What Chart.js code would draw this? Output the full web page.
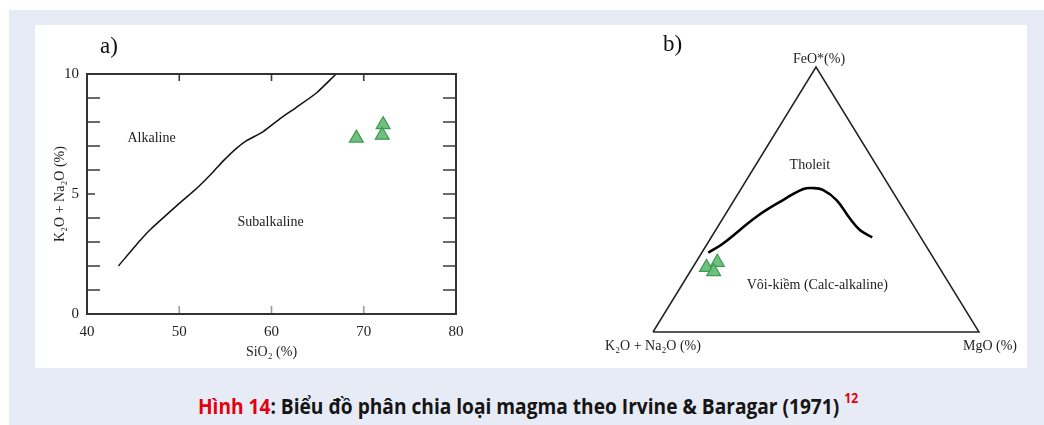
<!DOCTYPE html>
<html lang="vi">
<head>
<meta charset="utf-8">
<script src="https://cdn.jsdelivr.net/npm/chart.js@4.4.1/dist/chart.umd.min.js"></script>
<style>
  body { margin: 0; width: 1044px; height: 425px; background: #fff; position: relative; overflow: hidden; }
  #khung { position: absolute; left: 9px; top: 10px; width: 1035px; height: 415px; background: #e7ebf6; }
  #bang { position: absolute; left: 35px; top: 25px; width: 992px; height: 343px; background: #fff; }
  #divA { position: absolute; left: 35px; top: 25px; width: 470px; height: 343px; }
  #divB { position: absolute; left: 600px; top: 25px; width: 427px; height: 343px; }
  .chuCai { position: absolute; font-family: 'Liberation Serif', serif; font-size: 23px; color: #111; line-height: 1; }
  #chuThich { position: absolute; left: 5px; top: 390px; width: 1044px; text-align: center;
              font-family: 'Open Sans', sans-serif; font-weight: 700; font-size: 22px; color: #151515;
              transform: scaleX(0.87); transform-origin: 530px 0; white-space: nowrap; }
  #chuThich .do { color: #e3000f; }
  #chuThich sup { font-size: 14px; position: relative; top: -3px; }
</style>
</head>
<body>
<div id="khung"></div>
<div id="bang"></div>
<div id="divA"><canvas id="grafA" width="470" height="343"></canvas></div>
<div id="divB"><canvas id="grafB" width="427" height="343"></canvas></div>
<div class="chuCai" style="left:100px; top:34px;">a)</div>
<div class="chuCai" style="left:663px; top:32px;">b)</div>
<div id="chuThich"><span class="do">Hình 14</span>: Biểu đồ phân chia loại magma theo Irvine &amp; Baragar (1971) <sup class="do">12</sup></div>

<script>
// --- bieu do a): SiO2 - tong kiem ---
const duongSiO2 = [43.4, 45.8, 46.9, 50.1, 51.9, 53.7, 54.8, 56.2, 57.3, 59.1, 60.9, 62.7, 64.9, 67.0];
const duongKiem = [2.0, 3.08, 3.53, 4.64, 5.24, 5.93, 6.39, 6.9, 7.22, 7.6, 8.13, 8.61, 9.22, 10.0];
const mauSiO2 = [69.2, 72.1, 72.0];
const mauKiem = [7.33, 7.89, 7.45];
const vachTrai = [1, 2, 3, 4, 6, 7, 8, 9];
const vachTraiNgan = [5];
const vachPhai = [1, 2, 3, 4, 5, 6, 7, 8, 9];
const vachNgang = [50, 60, 70];
const vungA = [
  { ten: 'Alkaline', x: 47.0, y: 7.32 },
  { ten: 'Subalkaline', x: 59.9, y: 3.82 }
];

// --- bieu do b): AFM (kiem, FeO*, MgO) ---
const afmKiem = [68.1, 61.8, 46.5, 35.2, 27.1, 23.6, 21.1, 18.8, 18.2, 17.3, 14.9];
const afmFeO  = [29.9, 33.4, 43.5, 49.8, 53.9, 54.3, 53.6, 49.8, 42.9, 38.5, 35.7];
const afmMgO  = [2.0, 4.8, 10.0, 15.0, 19.0, 22.1, 25.3, 31.4, 38.9, 44.2, 49.4];
const mauAfmKiem = [71.4, 67.1, 70.0];
const mauAfmFeO  = [24.4, 26.3, 22.8];
const mauAfmMgO  = [4.2, 6.6, 7.2];
const dinhKiem = [100, 0, 0, 100];
const dinhFeO  = [0, 100, 0, 0];
const dinhMgO  = [0, 0, 100, 0];

const fontSerif = 'Liberation Serif, Times New Roman, serif';
const mauXanh = 'rgba(104, 190, 120, 0.95)';
const vienXanh = '#3c9a52';

// doi thanh phan ba dinh sang toa do phang
function sangPhang(a, f, m) {
  const tong = a + f + m;
  const ff = f / tong * 100, mm = m / tong * 100;
  return { x: mm + ff / 2, y: ff };
}

const vienVaVach = {
  id: 'vienVaVach',
  afterDatasetsDraw(chart) {
    const ctx = chart.ctx, ca = chart.chartArea;
    const sx = chart.scales.x, sy = chart.scales.y;
    ctx.save();
    ctx.strokeStyle = '#3a3a3a';
    ctx.lineWidth = 1.6;
    ctx.beginPath();
    vachTrai.forEach(v => { const p = sy.getPixelForValue(v); ctx.moveTo(ca.left, p); ctx.lineTo(ca.left + 13, p); });
    vachTraiNgan.forEach(v => { const p = sy.getPixelForValue(v); ctx.moveTo(ca.left, p); ctx.lineTo(ca.left + 8, p); });
    vachPhai.forEach(v => { const p = sy.getPixelForValue(v); ctx.moveTo(ca.right, p); ctx.lineTo(ca.right - 13, p); });
    vachNgang.forEach(v => { const p = sx.getPixelForValue(v); ctx.moveTo(p, ca.top); ctx.lineTo(p, ca.top + 7); });
    ctx.stroke();
    ctx.strokeStyle = '#9a9a9a';
    ctx.beginPath();
    vachNgang.forEach(v => { const p = sx.getPixelForValue(v); ctx.moveTo(p, ca.bottom); ctx.lineTo(p, ca.bottom - 8); });
    ctx.stroke();
    ctx.strokeStyle = '#333';
    ctx.lineWidth = 2;
    ctx.strokeRect(ca.left, ca.top, ca.right - ca.left, ca.bottom - ca.top);
    ctx.fillStyle = '#222';
    ctx.font = '14px ' + fontSerif;
    ctx.textAlign = 'center';
    ctx.textBaseline = 'middle';
    vungA.forEach(n => ctx.fillText(n.ten, sx.getPixelForValue(n.x), sy.getPixelForValue(n.y)));
    ctx.restore();
  }
};

new Chart(document.getElementById('grafA').getContext('2d'), {
  type: 'scatter',
  data: {
    datasets: [{
      type: 'line',
      data: duongSiO2.map((x, i) => ({ x: x, y: duongKiem[i] })),
      borderColor: '#111',
      borderWidth: 1.5,
      pointRadius: 0,
      tension: 0.2,
      fill: false
    }, {
      data: mauSiO2.map((x, i) => ({ x: x, y: mauKiem[i] })),
      pointStyle: 'triangle',
      pointRadius: 8,
      backgroundColor: mauXanh,
      borderColor: vienXanh,
      borderWidth: 1.2
    }]
  },
  options: {
    responsive: false,
    animation: false,
    layout: { padding: { top: 49, right: 49, left: 0, bottom: 0 } },
    plugins: { legend: { display: false }, tooltip: { enabled: false } },
    scales: {
      x: {
        type: 'linear', min: 40, max: 80,
        grid: { display: false, drawTicks: false },
        border: { display: false },
        ticks: { stepSize: 10, padding: 9, color: '#222', font: { family: fontSerif, size: 15 } },
        title: { display: true, text: 'SiO₂ (%)', color: '#222', font: { family: fontSerif, size: 14 }, padding: { top: 0, bottom: 7 } },
        afterFit(s) { s.height = 54; }
      },
      y: {
        min: 0, max: 10,
        grid: { display: false, drawTicks: false },
        border: { display: false },
        ticks: { stepSize: 5, padding: 8, color: '#222', font: { family: fontSerif, size: 15 } },
        title: { display: true, text: 'K₂O + Na₂O (%)', color: '#222', font: { family: fontSerif, size: 14 }, padding: { top: 17, bottom: 0 } },
        afterFit(s) { s.width = 52; }
      }
    }
  },
  plugins: [vienVaVach]
});

const nhanTamGiac = {
  id: 'nhanTamGiac',
  afterDatasetsDraw(chart) {
    const ctx = chart.ctx;
    const sx = chart.scales.x, sy = chart.scales.y;
    const px = v => sx.getPixelForValue(v), py = v => sy.getPixelForValue(v);
    ctx.save();
    ctx.fillStyle = '#222';
    ctx.font = '14px ' + fontSerif;
    ctx.textAlign = 'center';
    ctx.textBaseline = 'middle';
    ctx.fillText('FeO*(%)', px(50) + 3, py(100) - 8);
    ctx.fillText('K₂O + Na₂O (%)', px(0), py(0) + 14);
    ctx.fillText('MgO (%)', px(100) + 11, py(0) + 14);
    ctx.fillText('Tholeit', px(48.1), py(63.0));
    ctx.fillText('Vôi-kiềm (Calc-alkaline)', px(50.4), py(17.7));
    ctx.restore();
  }
};

new Chart(document.getElementById('grafB').getContext('2d'), {
  type: 'scatter',
  data: {
    datasets: [{
      type: 'line',
      data: dinhKiem.map((a, i) => sangPhang(a, dinhFeO[i], dinhMgO[i])),
      borderColor: '#222',
      borderWidth: 1.5,
      pointRadius: 0,
      tension: 0,
      fill: false,
      clip: 4
    }, {
      type: 'line',
      data: afmKiem.map((a, i) => sangPhang(a, afmFeO[i], afmMgO[i])),
      borderColor: '#000',
      borderWidth: 2.6,
      pointRadius: 0,
      tension: 0.4,
      fill: false
    }, {
      data: mauAfmKiem.map((a, i) => sangPhang(a, mauAfmFeO[i], mauAfmMgO[i])),
      pointStyle: 'triangle',
      pointRadius: 8,
      backgroundColor: mauXanh,
      borderColor: vienXanh,
      borderWidth: 1.2
    }]
  },
  options: {
    responsive: false,
    animation: false,
    layout: { padding: { top: 42, right: 48, left: 53, bottom: 36 } },
    plugins: { legend: { display: false }, tooltip: { enabled: false } },
    scales: {
      x: { type: 'linear', min: 0, max: 100, display: false },
      y: { min: 0, max: 100, display: false }
    }
  },
  plugins: [nhanTamGiac]
});
</script>
</body>
</html>
